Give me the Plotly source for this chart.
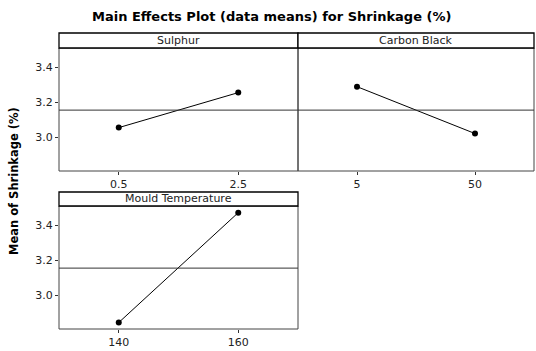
import plotly.graph_objects as go

# ---- data ----
factor_names = ["Sulphur", "Carbon Black", "Mould Temperature"]
sulphur_levels = ["0.5", "2.5"]
sulphur_means = [3.057, 3.257]
carbon_levels = ["5", "50"]
carbon_means = [3.291, 3.023]
mould_levels = ["140", "160"]
mould_means = [2.846, 3.474]
grand_mean = 3.157
y_tick_vals = [3.0, 3.2, 3.4]
y_tick_text = ["3.0", "3.2", "3.4"]

W, H = 536, 351
FONT = "DejaVu Sans"

def px_x(p):
    return p / W

def px_y(p):
    return 1 - p / H

# panel geometry in pixels: (x0, x1, strip_top, plot_top, plot_bottom)
panels = [
    (59, 298, 33, 48, 171),
    (298, 534, 33, 48, 171),
    (59, 298, 192, 206, 329),
]
levels = [sulphur_levels, carbon_levels, mould_levels]
means = [sulphur_means, carbon_means, mould_means]

fig = go.Figure()
shapes = []
annotations = []
yrange = [2.809, 3.512]

for i, (x0, x1, st, pt, pb) in enumerate(panels):
    n = i + 1
    xa = "x" if n == 1 else f"x{n}"
    ya = "y" if n == 1 else f"y{n}"
    fig.add_trace(go.Scatter(
        x=list(range(len(levels[i]))), y=means[i],
        mode="lines+markers",
        line=dict(color="black", width=1),
        marker=dict(color="black", size=6),
        xaxis=xa, yaxis=ya, showlegend=False, hoverinfo="skip",
    ))
    xkey = "xaxis" if n == 1 else f"xaxis{n}"
    ykey = "yaxis" if n == 1 else f"yaxis{n}"
    fig.layout[xkey] = dict(
        domain=[px_x(x0), px_x(x1)], anchor=ya,
        range=[-0.5, len(levels[i]) - 0.5],
        tickvals=list(range(len(levels[i]))), ticktext=levels[i],
        ticks="outside", ticklen=3, tickcolor="#333", tickwidth=1,
        showgrid=False, zeroline=False, showline=False,
        tickfont=dict(family=FONT, size=11, color="#222"),
        fixedrange=True,
    )
    show_y = (n != 2)
    fig.layout[ykey] = dict(
        domain=[px_y(pb), px_y(pt)], anchor=xa,
        range=yrange,
        tickvals=y_tick_vals, ticktext=y_tick_text,
        ticks="outside" if show_y else "", ticklen=3, tickcolor="#333",
        showticklabels=show_y,
        showgrid=False, zeroline=False, showline=False,
        tickfont=dict(family=FONT, size=11, color="#222"),
        fixedrange=True,
    )
    # plot area frame
    shapes.append(dict(type="rect", xref="paper", yref="paper",
                       x0=px_x(x0), x1=px_x(x1), y0=px_y(pb), y1=px_y(pt),
                       line=dict(color="#444", width=1), layer="above"))
    # strip box
    shapes.append(dict(type="rect", xref="paper", yref="paper",
                       x0=px_x(x0), x1=px_x(x1), y0=px_y(pt), y1=px_y(st),
                       line=dict(color="black", width=1.3), fillcolor="white"))
    # grand mean reference line
    shapes.append(dict(type="line", xref=f"{xa} domain", yref=ya,
                       x0=0, x1=1, y0=grand_mean, y1=grand_mean,
                       line=dict(color="#333", width=1)))
    annotations.append(dict(text=factor_names[i], xref="paper", yref="paper",
                            x=px_x((x0 + x1) / 2), y=px_y((st + pt) / 2),
                            showarrow=False, xanchor="center", yanchor="middle",
                            font=dict(family=FONT, size=11, color="#222")))

annotations.append(dict(text="<b>Main Effects Plot (data means) for Shrinkage (%)</b>",
                        xref="paper", yref="paper", x=px_x(271), y=px_y(16),
                        showarrow=False, xanchor="center", yanchor="middle",
                        font=dict(family=FONT, size=13, color="black")))
annotations.append(dict(text="<b>Mean of Shrinkage (%)</b>",
                        xref="paper", yref="paper", x=px_x(14), y=px_y(181),
                        showarrow=False, xanchor="center", yanchor="middle",
                        textangle=-90,
                        font=dict(family=FONT, size=11.5, color="black")))

fig.update_layout(
    width=W, height=H,
    margin=dict(l=0, r=0, t=0, b=0),
    paper_bgcolor="white", plot_bgcolor="white",
    shapes=shapes, annotations=annotations,
    font=dict(family=FONT),
)

fig.write_html("out.html",
               config={"displayModeBar": False, "staticPlot": True},
               post_script="document.body.style.margin='0';document.body.style.overflow='hidden';")
